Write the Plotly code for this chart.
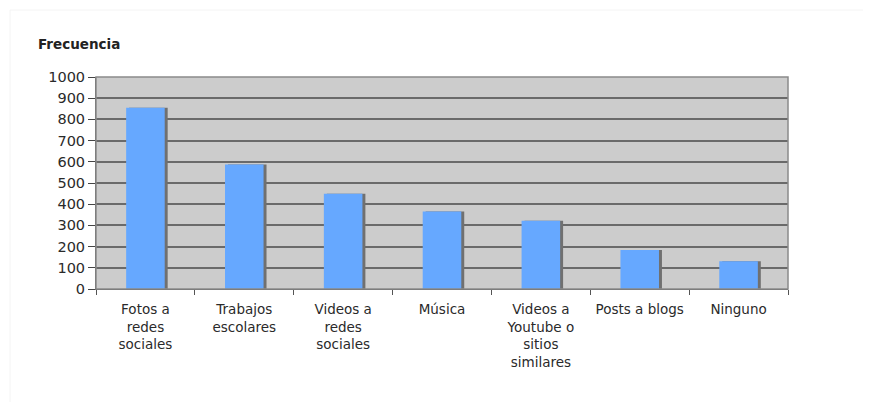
import plotly.graph_objects as go

categories = ["Fotos a<br>redes<br>sociales", "Trabajos<br>escolares", "Videos a<br>redes<br>sociales",
              "Música", "Videos a<br>Youtube o<br>sitios<br>similares", "Posts a blogs", "Ninguno"]
values = [855, 587, 449, 366, 322, 184, 131]
y_ticks = [0, 100, 200, 300, 400, 500, 600, 700, 800, 900, 1000]

# page has an 8px body margin; compensate
W, H = 863, 394
ML, MR, MT, MB = 88, 83, 69, 113
PW, PH = W - ML - MR, H - MT - MB

fig = go.Figure()
# shadow
fig.add_trace(go.Bar(x=categories, y=values, width=0.39, offset=-0.165,
                     marker=dict(color="#707070", line=dict(width=0)),
                     hoverinfo="skip", showlegend=False))
fig.add_trace(go.Bar(x=categories, y=values, width=0.39, offset=-0.195,
                     marker=dict(color="#66a8ff", line=dict(width=0)),
                     showlegend=False))

fig.update_layout(
    width=W, height=H,
    barmode="overlay",
    margin=dict(l=ML, r=MR, t=MT, b=MB),
    paper_bgcolor="white",
    plot_bgcolor="#cccccc",
    font=dict(family="DejaVu Sans", size=13, color="#2a2a2a"),
)
fig.update_layout(annotations=[dict(text="<b>Frecuencia</b>", xref="paper", yref="paper",
                                    x=(28 - ML) / PW, y=1 + (MT - 36) / PH,
                                    xanchor="left", yanchor="middle", showarrow=False,
                                    font=dict(size=13.5, color="#222222"))])

fig.update_xaxes(
    tickson="boundaries", ticks="outside", ticklen=5, tickcolor="#555555", tickwidth=1,
    showline=True, linecolor="#555555", linewidth=1, mirror=False,
    showgrid=False, tickfont=dict(size=13.5, color="#2a2a2a"),
    ticklabelstandoff=8,
    range=[-0.5, 6.5],
)
fig.update_yaxes(
    range=[0, 1000], tickvals=y_ticks, ticks="outside", ticklen=7, tickcolor="#444444",
    showline=True, linecolor="#555555", linewidth=1, mirror=False,
    showgrid=True, gridcolor="#6a6a6a", gridwidth=1.8, zeroline=False,
    tickfont=dict(size=14.5, color="#2a2a2a"),
)
# border on top/right
fig.add_shape(type="rect", xref="paper", yref="paper", x0=0, y0=0, x1=1, y1=1,
              line=dict(color="#8a8a8a", width=1.5), layer="above")
# faint outer frame
fig.add_shape(type="rect", xref="paper", yref="paper",
              x0=(2 - ML) / PW, y0=-(396 - (MT + PH)) / PH, x1=(880 - ML) / PW, y1=1 + (MT - 2) / PH,
              line=dict(color="#f4f4f4", width=1), layer="below")

fig.write_html("out.html")
